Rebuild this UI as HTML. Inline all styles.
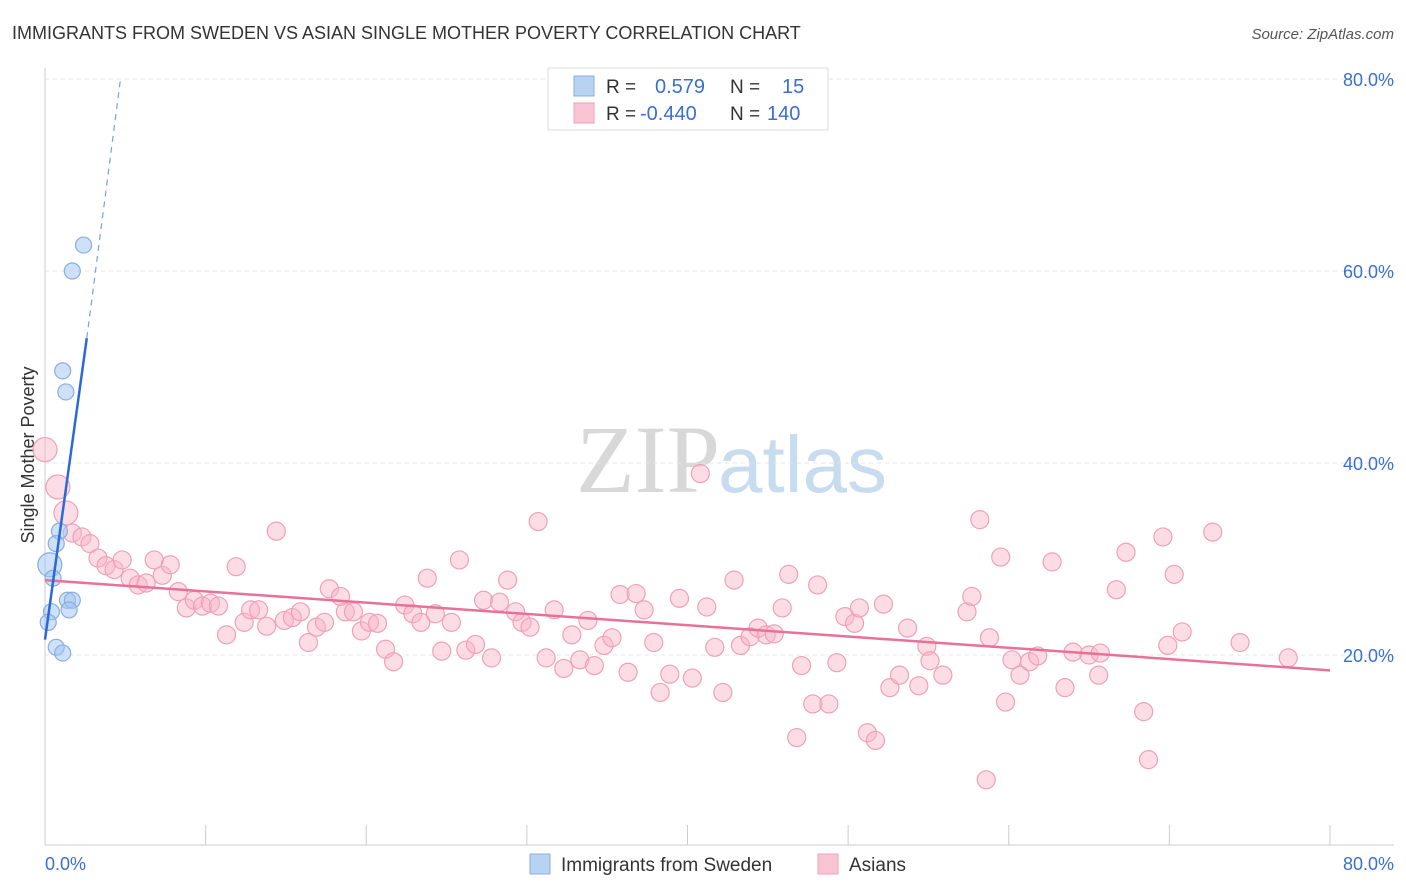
<!DOCTYPE html>
<html><head><meta charset="utf-8"><style>
body{margin:0;background:#fff;font-family:"Liberation Sans",sans-serif}
#wrap{position:relative;width:1406px;height:892px;overflow:hidden}
</style></head><body>
<div id="wrap">
<svg id="svg" width="1406" height="892" xmlns="http://www.w3.org/2000/svg">
<text x="12" y="39" font-size="18" fill="#333">IMMIGRANTS FROM SWEDEN VS ASIAN SINGLE MOTHER POVERTY CORRELATION CHART</text>
<text x="1394" y="39" font-size="15" fill="#555" font-style="italic" text-anchor="end">Source: ZipAtlas.com</text>
<text x="720" y="492" font-size="96" fill="#d8d8d8" text-anchor="end" font-family="Liberation Serif">ZIP</text>
<text x="718" y="492" font-size="80" fill="#c8dcf0">atlas</text>
<text x="34" y="455" font-size="18" fill="#333" text-anchor="middle" transform="rotate(-90 34 455)">Single Mother Poverty</text>
<g id="grid"></g><g id="pts"></g><g id="lines"></g>
<g>
<rect x="548" y="68" width="280" height="62" fill="#fff" stroke="#ddd"/>
<rect x="574" y="76" width="20" height="20" fill="#b8d2f4" stroke="#88aee0"/>
<rect x="574" y="103" width="20" height="20" fill="#f9c4d4" stroke="#f0a0b8"/>
<text x="606" y="93" font-size="19" fill="#333">R =</text><text x="655" y="93" font-size="20" fill="#3a6fd0">0.579</text>
<text x="730" y="93" font-size="19" fill="#333">N =</text><text x="782" y="93" font-size="20" fill="#3a6fd0">15</text>
<text x="606" y="120" font-size="19" fill="#333">R =</text><text x="640" y="120" font-size="20" fill="#3a6fd0">-0.440</text>
<text x="730" y="120" font-size="19" fill="#333">N =</text><text x="767" y="120" font-size="20" fill="#3a6fd0">140</text>
</g>
<g>
<rect x="530" y="854" width="20" height="20" fill="#b8d2f4" stroke="#88aee0"/>
<text x="561" y="871" font-size="19" fill="#333">Immigrants from Sweden</text>
<rect x="818" y="854" width="20" height="20" fill="#f9c4d4" stroke="#f0a0b8"/>
<text x="849" y="871" font-size="19" fill="#333">Asians</text>
</g>
<text x="45" y="870" font-size="18" fill="#3a6fd0">0.0%</text>
<text x="1394" y="870" font-size="18" fill="#3a6fd0" text-anchor="end">80.0%</text>
</svg></div>
<script>
const yTicks=[20,40,60,80];
const yTickLabels=["20.0%","40.0%","60.0%","80.0%"];
const xTicks=[0,10,20,30,40,50,60,70,80];
const blueX=[2.4,1.7,1.1,1.3,0.9,0.7,0.3,0.5,0.4,0.2,1.4,1.7,1.5,0.7,1.1];
const blueY=[62.7,60.0,49.6,47.4,32.9,31.6,29.4,28.0,24.5,23.4,25.7,25.7,24.7,20.8,20.2];
const pinkX=[0,0.8,1.3,1.7,2.3,2.8,3.3,3.8,4.3,4.8,5.3,5.8,6.3,6.8,7.3,7.8,8.3,8.8,9.3,9.8,10.3,10.8,11.3,11.9,12.4,12.8,13.3,13.8,14.4,14.9,15.4,15.9,16.4,16.9,17.4,17.7,18.4,18.7,19.2,19.7,20.2,20.7,21.2,21.7,22.4,22.9,23.4,23.8,24.3,24.7,25.3,25.8,26.2,26.8,27.3,27.8,28.3,28.8,29.3,29.7,30.2,30.7,31.2,31.7,32.3,32.8,33.3,33.8,34.2,34.8,35.3,35.8,36.3,36.8,37.3,37.9,38.3,38.9,39.5,40.3,40.8,41.2,41.7,42.2,42.9,43.3,43.9,44.4,44.9,45.4,45.9,46.3,46.8,47.1,47.8,48.1,48.8,49.3,49.8,50.4,50.7,51.2,51.7,52.2,52.6,53.2,53.7,54.4,54.9,55.1,55.9,57.4,57.7,58.2,58.6,58.8,59.5,59.8,60.2,60.7,61.3,61.8,62.7,63.5,64.0,65.0,65.6,65.7,66.7,67.3,68.4,68.7,69.6,69.9,70.3,70.8,72.7,74.4,77.4];
const pinkY=[41.4,37.5,34.8,32.7,32.3,31.6,30.1,29.3,28.9,29.9,28.0,27.3,27.5,29.9,28.3,29.4,26.6,24.9,25.7,25.1,25.4,25.1,22.1,29.2,23.4,24.7,24.7,23.0,32.9,23.6,23.9,24.5,21.3,22.9,23.4,26.9,26.1,24.5,24.5,22.5,23.4,23.3,20.6,19.3,25.2,24.3,23.4,28.0,24.3,20.4,23.4,29.9,20.5,21.1,25.7,19.7,25.5,27.8,24.5,23.4,22.9,33.9,19.7,24.7,18.6,22.1,19.5,23.6,18.9,21.0,21.8,26.3,18.2,26.4,24.7,21.3,16.1,18.0,25.9,17.6,38.9,25.0,20.8,16.1,27.8,21.0,21.9,22.8,22.1,22.2,24.9,28.4,11.4,18.9,14.9,27.3,14.9,19.2,24.0,23.3,24.9,11.9,11.1,25.3,16.6,17.9,22.8,16.8,20.9,19.4,17.9,24.5,26.1,34.1,7.0,21.8,30.2,15.1,19.5,17.9,19.3,19.9,29.7,16.6,20.3,20.0,17.9,20.2,26.8,30.7,14.1,9.1,32.3,21.0,28.4,22.4,32.8,21.3,19.7];
const pinkTrend=[[0,27.8],[80,18.4]];
const blueTrendSolid=[[0,21.6],[2.6,53]];
const blueTrendDash=[[2.6,53],[4.7,80]];
const X=v=>45+v*(1285/80), Y=v=>847-v*9.6;
const NS="http://www.w3.org/2000/svg";
function mk(tag,attrs,parent){const e=document.createElementNS(NS,tag);for(const k in attrs)e.setAttribute(k,attrs[k]);parent.appendChild(e);return e;}
const grid=document.getElementById('grid'),pts=document.getElementById('pts'),lines=document.getElementById('lines');
yTicks.forEach((t,i)=>{
 const l=mk('line',{x1:45,x2:1394,y1:Y(t),y2:Y(t),stroke:'#e4e4e4','stroke-dasharray':'4,4'},grid);
 
 
 const tx=mk('text',{x:1394,y:Y(t)+7,'font-size':18,fill:'#3a6fd0','text-anchor':'end'},grid);
 tx.textContent=yTickLabels[i];
 
 
});
const ax=mk('line',{x1:45,x2:1394,y1:845,y2:845,stroke:'#ccc'},grid);


const ay=mk('line',{x1:45,x2:45,y1:68,y2:845,stroke:'#ccc'},grid);


xTicks.forEach(t=>{
 const l=mk('line',{x1:X(t),x2:X(t),y1:825,y2:845,stroke:'#ccc'},grid);
 
 
});
pinkX.forEach((x,i)=>{
 const c=mk('circle',{cx:X(x),cy:Y(pinkY[i]),r:i<3?12:9,fill:'rgba(248,180,200,0.45)',stroke:'#f0a0b8','stroke-width':1.2},pts);
 
 
});
blueX.forEach((x,i)=>{
 const c=mk('circle',{cx:X(x),cy:Y(blueY[i]),r:i==6?12:8,fill:'rgba(160,196,240,0.5)',stroke:'#88aee0','stroke-width':1.2},pts);
 
 
});
const pl=mk('line',{x1:X(pinkTrend[0][0]),y1:Y(pinkTrend[0][1]),x2:X(pinkTrend[1][0]),y2:Y(pinkTrend[1][1]),stroke:'#e8709a','stroke-width':2.5},lines);


const bl=mk('line',{x1:X(blueTrendSolid[0][0]),y1:Y(blueTrendSolid[0][1]),x2:X(blueTrendSolid[1][0]),y2:Y(blueTrendSolid[1][1]),stroke:'#2a6ad8','stroke-width':2.5},lines);


const bd=mk('line',{x1:X(blueTrendDash[0][0]),y1:Y(blueTrendDash[0][1]),x2:X(blueTrendDash[1][0]),y2:Y(blueTrendDash[1][1]),stroke:'#7aa0e0','stroke-width':1.2,'stroke-dasharray':'6,5'},lines);


</script>
</body></html>
